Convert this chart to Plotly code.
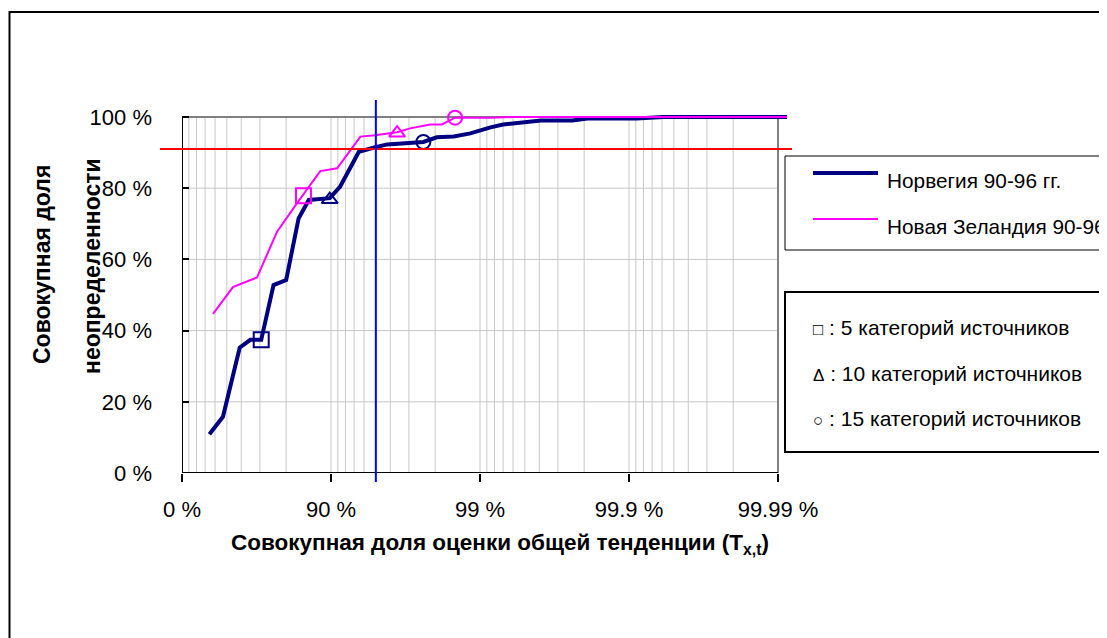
import numpy as np
import plotly.graph_objects as go

# ---------------- data ----------------
# cumulative share of overall trend estimate T (in %) and cumulative share of uncertainty
nor_T_pct = [34.5, 46.9, 59.0, 65.2, 70.6, 75.7, 80.0, 83.5, 85.9, 89.8, 91.3, 93.5, 94.95,
             95.8, 97.6, 98.05, 98.5, 98.84, 99.15, 99.30, 99.61, 99.76, 99.81, 99.911,
             99.941, 99.9913]
nor_share = [0.109, 0.158, 0.352, 0.374, 0.374, 0.528, 0.542, 0.715, 0.767, 0.772, 0.804,
             0.9025, 0.915, 0.923, 0.93, 0.943, 0.945, 0.954, 0.971, 0.979, 0.99, 0.99,
             0.996, 0.996, 1.0, 1.0]

nz_T_pct = [38.1, 54.5, 68.6, 77.0, 83.1, 88.2, 90.9, 93.65, 94.95, 96.4, 97.06, 97.84,
            98.2, 98.53, 99.15, 99.41, 99.9913]
nz_share = [0.447, 0.522, 0.549, 0.678, 0.758, 0.848, 0.856, 0.945, 0.949, 0.957, 0.968,
            0.979, 0.979, 0.998, 0.998, 1.0, 1.0]

# markers: [Norway, New Zealand]
sq_T_pct = [70.6, 84.7]      # 5 source categories
sq_share = [0.374, 0.779]
tri_T_pct = [89.8, 96.4]     # 10 source categories
tri_share = [0.768, 0.955]
circ_T_pct = [97.6, 98.53]   # 15 source categories
circ_share = [0.93, 0.998]

thresh_share = 0.91          # red horizontal line
thresh_T_pct = 95.0          # blue vertical line

xtick_T_pct = [0, 90, 99, 99.9, 99.99]
xtick_text = ["0 %", "90 %", "99 %", "99.9 %", "99.99 %"]
ytick_vals = [0, 0.2, 0.4, 0.6, 0.8, 1.0]
ytick_text = ["0 %", "20 %", "40 %", "60 %", "80 %", "100 %"]

series_names = ["Норвегия 90-96 гг.", "Новая Зеландия 90-96 гг."]
marker_labels = [": 5 категорий источников", ": 10 категорий источников",
                 ": 15 категорий источников"]
marker_glyphs = ["□", "Δ", "○"]

NAVY = "#000080"
MAGENTA = "#FF00FF"


def tx(t_pct):
    """probability scale: -log10(1 - T)"""
    return -np.log10(1 - np.asarray(t_pct, dtype=float) / 100.0)


# ---------------- layout geometry ----------------
OFF = 8                      # page body margin
W, H = 1107, 638
L, R, T, B = 174, 328, 105, 173
PW, PH = W - L - R, H - T - B
X_MAX = 4.0604
Y_MAX = 360 / 356


def px(x):
    """page x pixel -> paper"""
    return (x - OFF - L) / PW


def py(y):
    """page y pixel -> paper"""
    return (H - B - (y - OFF)) / PH


FONT = "Arial, Liberation Sans, sans-serif"

fig = go.Figure()

fig.add_trace(go.Scatter(x=tx(nor_T_pct), y=nor_share, mode="lines",
                         line=dict(color=NAVY, width=4), showlegend=False))
fig.add_trace(go.Scatter(x=tx(nz_T_pct), y=nz_share, mode="lines",
                         line=dict(color=MAGENTA, width=2), showlegend=False))

for xs, ys, sym, sz in [(sq_T_pct, sq_share, "square-open", 15),
                        (tri_T_pct, tri_share, "triangle-up-open", 14),
                        (circ_T_pct, circ_share, "circle-open", 14)]:
    fig.add_trace(go.Scatter(x=tx(xs), y=ys, mode="markers", showlegend=False,
                             cliponaxis=False,
                             marker=dict(symbol=sym, size=sz, color=[NAVY, MAGENTA],
                                         line=dict(width=2, color=[NAVY, MAGENTA]))))

shapes = []
grid_col = "#c8c8c8"
# vertical grid lines (probability scale)
for k in range(4):
    for j in range(1, 10):
        gx = k + (-np.log10(1 - j / 10))
        shapes.append(dict(type="line", xref="x", yref="y", x0=gx, x1=gx, y0=0, y1=1,
                           line=dict(color=grid_col, width=1), layer="below"))
for gy in ytick_vals[1:-1]:
    shapes.append(dict(type="line", xref="x", yref="y", x0=0, x1=4, y0=gy, y1=gy,
                       line=dict(color=grid_col, width=1), layer="below"))
# plot frame
shapes += [
    dict(type="line", xref="x", yref="y", x0=0, x1=4, y0=1, y1=1,
         line=dict(color="#808080", width=2), layer="below"),
    dict(type="line", xref="x", yref="y", x0=4, x1=4, y0=0, y1=1,
         line=dict(color="#808080", width=2), layer="below"),
    dict(type="line", xref="x", yref="y", x0=0, x1=0, y0=0, y1=1,
         line=dict(color="black", width=2), layer="below"),
    dict(type="line", xref="x", yref="y", x0=0, x1=4, y0=0, y1=0,
         line=dict(color="black", width=2), layer="below"),
]
# reference lines
shapes.append(dict(type="line", xref="paper", yref="y", x0=px(160), x1=px(792),
                   y0=thresh_share, y1=thresh_share, line=dict(color="#FF0000", width=2)))
xv = float(tx(thresh_T_pct))
shapes.append(dict(type="line", xref="x", yref="paper", x0=xv, x1=xv, y0=py(482), y1=py(100),
                   line=dict(color="#0000FF", width=2)))
# outer chart border
shapes.append(dict(type="rect", xref="paper", yref="paper", x0=px(9.5), x1=px(1130),
                   y0=py(670), y1=py(12), line=dict(color="black", width=2)))
# legend box 1
shapes.append(dict(type="rect", xref="paper", yref="paper", x0=px(785), x1=px(1130),
                   y0=py(250), y1=py(156), line=dict(color="black", width=1),
                   fillcolor="white", layer="above"))
shapes.append(dict(type="line", xref="paper", yref="paper", x0=px(813), x1=px(878),
                   y0=py(173), y1=py(173), line=dict(color=NAVY, width=4)))
shapes.append(dict(type="line", xref="paper", yref="paper", x0=px(813), x1=px(878),
                   y0=py(219), y1=py(219), line=dict(color=MAGENTA, width=2)))
# legend box 2
shapes.append(dict(type="rect", xref="paper", yref="paper", x0=px(785), x1=px(1100),
                   y0=py(452), y1=py(292), line=dict(color="black", width=2),
                   fillcolor="white", layer="above"))

annotations = []
for name, yy in zip(series_names, [180, 226]):
    annotations.append(dict(xref="paper", yref="paper", x=px(885), y=py(yy), text=name,
                            showarrow=False, xanchor="left", yanchor="middle",
                            font=dict(size=20.8, color="black", family=FONT)))
for g, lab, yy in zip(marker_glyphs, marker_labels, [327, 373, 418]):
    annotations.append(dict(xref="paper", yref="paper", x=px(811), y=py(yy),
                            text=f"<span style='font-size:17px'>{g}</span> {lab}",
                            showarrow=False, xanchor="left", yanchor="middle",
                            font=dict(size=21, color="black", family=FONT)))
# axis titles
annotations.append(dict(xref="paper", yref="paper", x=px(500), y=py(544),
                        text="<b>Совокупная доля оценки общей тенденции (T<sub>x,t</sub>)</b>",
                        showarrow=False, xanchor="center", yanchor="middle",
                        font=dict(size=22.5, color="black", family=FONT)))
annotations.append(dict(xref="paper", yref="paper", x=px(42), y=py(265),
                        text="<b>Совокупная доля</b>", textangle=-90,
                        showarrow=False, xanchor="center", yanchor="middle",
                        font=dict(size=23, color="black", family=FONT)))
annotations.append(dict(xref="paper", yref="paper", x=px(92), y=py(266),
                        text="<b>неопределенности</b>", textangle=-90,
                        showarrow=False, xanchor="center", yanchor="middle",
                        font=dict(size=23, color="black", family=FONT)))

fig.update_layout(
    width=W, height=H,
    margin=dict(l=L, r=R, t=T, b=B, pad=0),
    paper_bgcolor="white", plot_bgcolor="white",
    font=dict(family=FONT, size=22, color="black"),
    showlegend=False,
    shapes=shapes, annotations=annotations,
    xaxis=dict(range=[0, X_MAX], tickvals=list(tx(xtick_T_pct)), ticktext=xtick_text,
               ticks="outside", ticklen=8, tickwidth=1.5, tickcolor="black",
               showgrid=False, zeroline=False, showline=False,
               ticklabelstandoff=9, tickfont=dict(size=22)),
    yaxis=dict(range=[0, Y_MAX], tickvals=ytick_vals, ticktext=ytick_text,
               ticks="inside", ticklen=7, tickwidth=1.5, tickcolor="black",
               showgrid=False, zeroline=False, showline=False,
               ticklabelstandoff=29, tickfont=dict(size=22)),
)

fig.write_html("out.html")
